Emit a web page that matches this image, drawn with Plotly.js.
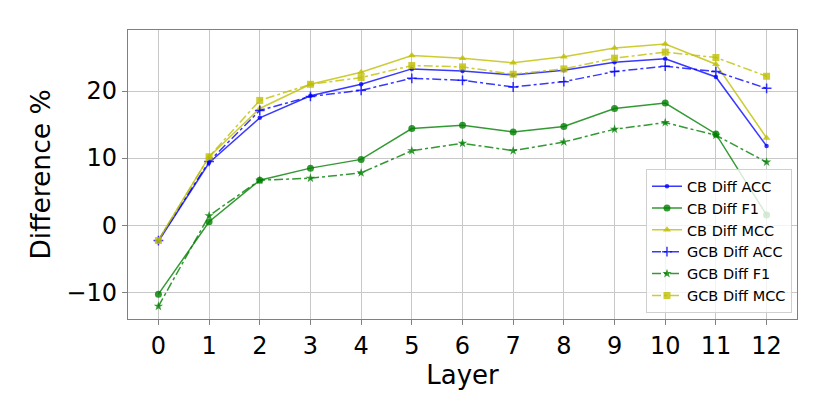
<!DOCTYPE html>
<html>
<head>
<meta charset="utf-8">
<script src="https://cdn.plot.ly/plotly-3.0.1.min.js"></script>
<style>
  html, body { margin: 0; padding: 0; background: #fff; }
  #chart { width: 830px; height: 415px; }
</style>
</head>
<body>
<div id="chart"></div>
<script>
// layers on the x axis
const layers = [0, 1, 2, 3, 4, 5, 6, 7, 8, 9, 10, 11, 12];

// difference values (%)
const cbAcc  = [-2.4, 9.3, 16.0, 19.3, 21.0, 23.3, 23.0, 22.4, 23.1, 24.3, 24.8, 22.1, 11.8];
const cbF1   = [-10.3, 0.5, 6.7, 8.5, 9.8, 14.4, 14.9, 13.9, 14.7, 17.4, 18.2, 13.6, 1.5];
const cbMcc  = [-2.2, 10.2, 17.4, 21.0, 22.8, 25.3, 24.9, 24.2, 25.1, 26.4, 27.0, 24.0, 13.0];
const gcbAcc = [-2.3, 9.5, 17.1, 19.2, 20.1, 21.9, 21.6, 20.6, 21.4, 22.9, 23.7, 22.9, 20.4];
const gcbF1  = [-12.1, 1.4, 6.7, 7.0, 7.8, 11.1, 12.2, 11.1, 12.4, 14.3, 15.3, 13.4, 9.4];
const gcbMcc = [-2.3, 10.2, 18.6, 21.0, 22.0, 23.8, 23.6, 22.5, 23.3, 24.9, 25.8, 25.0, 22.2];

const seriesNames = ['CB Diff ACC', 'CB Diff F1', 'CB Diff MCC', 'GCB Diff ACC', 'GCB Diff F1', 'GCB Diff MCC'];

const blue = 'rgba(0,0,255,0.78)';
const green = 'rgba(0,128,0,0.8)';
const yellow = 'rgba(191,191,0,0.8)';

function trace(name, y, color, dash, symbol, size) {
    return {
        x: layers,
        y: y,
        name: name,
        mode: 'lines+markers',
        line: {color: color, width: 1.5, dash: dash},
        marker: {color: color, symbol: symbol, size: size, line: {width: 0}},
        hoverinfo: 'none'
    };
}

const data = [
    trace(seriesNames[0], cbAcc, blue, 'solid', 'circle', 4.5),
    trace(seriesNames[1], cbF1, green, 'solid', 'circle', 7),
    trace(seriesNames[2], cbMcc, yellow, 'solid', 'triangle-up', 7),
    trace(seriesNames[3], gcbAcc, blue, 'dashdot', 'cross-thin', 7),
    trace(seriesNames[4], gcbF1, green, 'dashdot', 'star', 7),
    trace(seriesNames[5], gcbMcc, yellow, 'dashdot', 'square', 7)
];
// thin cross needs a line colour to show
data[3].marker.line = {color: blue, width: 1.5};

const axisFont = {family: 'DejaVu Sans', size: 24, color: '#000'};

const layout = {
    width: 830,
    height: 415,
    margin: {l: 128, r: 33, t: 30, b: 96},
    paper_bgcolor: '#fff',
    plot_bgcolor: '#fff',
    font: {family: 'DejaVu Sans', color: '#000'},
    showlegend: true,
    legend: {
        x: 0.9925, xanchor: 'right',
        y: 0.02, yanchor: 'bottom',
        bgcolor: 'rgba(255,255,255,0.8)',
        bordercolor: '#d0d0d0',
        borderwidth: 1,
        font: {family: 'DejaVu Sans', size: 14.5, color: '#000'},
        tracegroupgap: 0,
        itemwidth: 30
    },
    xaxis: {
        range: [-0.6, 12.6],
        tickmode: 'array',
        tickvals: layers,
        ticktext: layers.map(String),
        tickfont: axisFont,
        ticks: 'outside', ticklen: 5, tickcolor: '#808080',
        showgrid: true, gridcolor: '#c8c8c8', gridwidth: 1,
        zeroline: false,
        showline: true, linecolor: '#808080', linewidth: 1.2, mirror: true,
        title: {text: 'Layer', font: {family: 'DejaVu Sans', size: 26, color: '#000'}, standoff: 2}
    },
    yaxis: {
        range: [-14.0, 29.1],
        tickvals: [-10, 0, 10, 20],
        ticktext: ['\u221210', '0', '10', '20'],
        tickfont: axisFont,
        ticks: 'outside', ticklen: 5, tickcolor: '#808080',
        showgrid: true, gridcolor: '#c8c8c8', gridwidth: 1,
        zeroline: false,
        showline: true, linecolor: '#808080', linewidth: 1.2, mirror: true,
        title: {text: 'Difference %', font: {family: 'DejaVu Sans', size: 26.5, color: '#000'}, standoff: 8}
    }
};

Plotly.newPlot('chart', data, layout, {displayModeBar: false, staticPlot: true});
</script>
</body>
</html>
